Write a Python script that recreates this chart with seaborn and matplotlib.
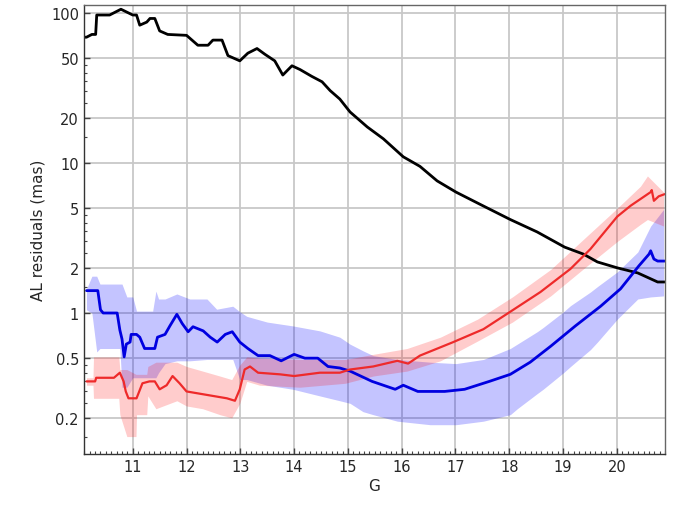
import numpy as np
import pandas as pd
import matplotlib
matplotlib.use("Agg")
import matplotlib.pyplot as plt
import seaborn as sns
from matplotlib.ticker import FixedLocator, MultipleLocator, NullFormatter, LogLocator

# black curve (median AL residual, all sources)
g_black = [10.09, 10.14, 10.24, 10.31, 10.33, 10.57, 10.78, 11.0, 11.07, 11.13, 11.26, 11.32,
           11.41, 11.50, 11.65, 12.0, 12.21, 12.40, 12.49, 12.66, 12.77, 12.99, 13.14, 13.31,
           13.46, 13.64, 13.79, 13.96, 14.11, 14.33, 14.52, 14.67, 14.85, 15.04, 15.36, 15.66,
           16.03, 16.34, 16.66, 17.01, 17.46, 18.02, 18.52, 19.03, 19.38, 19.64, 20.01, 20.39,
           20.76, 20.91]
al_black = [69, 69, 72, 72, 97, 97, 106, 97, 97, 83, 87, 92,
            92, 76, 72, 71, 61, 61, 66, 66, 52, 48, 54, 58,
            53, 48, 38.6, 44.5, 42, 37.8, 34.8, 30.4, 26.7, 21.9, 17.4, 14.5,
            11.0, 9.5, 7.6, 6.4, 5.3, 4.2, 3.47, 2.75, 2.47, 2.19, 2.0, 1.85,
            1.61, 1.61]

# blue curve and band
g_blue = [10.14, 10.35, 10.40, 10.45, 10.71, 10.76, 10.80, 10.84, 10.88, 10.95, 10.97, 11.07,
          11.13, 11.22, 11.41, 11.46, 11.60, 11.69, 11.82, 11.92, 12.03, 12.12, 12.31, 12.44,
          12.57, 12.72, 12.85, 12.99, 13.14, 13.33, 13.55, 13.76, 14.0, 14.2, 14.44, 14.63,
          14.85, 15.04, 15.45, 15.88, 16.03, 16.3, 16.8, 17.17, 17.63, 18.02, 18.39, 18.77,
          19.23, 19.7, 20.07, 20.41, 20.6, 20.63, 20.69, 20.76, 20.91]
al_blue = [1.41, 1.41, 1.05, 1.0, 1.0, 0.77, 0.67, 0.51, 0.62, 0.64, 0.72, 0.72,
           0.69, 0.58, 0.58, 0.69, 0.72, 0.82, 0.98, 0.85, 0.75, 0.81, 0.76, 0.69,
           0.64, 0.72, 0.75, 0.64, 0.58, 0.52, 0.52, 0.48, 0.53, 0.50, 0.50, 0.44,
           0.43, 0.41, 0.35, 0.31, 0.33, 0.30, 0.30, 0.31, 0.35, 0.39, 0.47, 0.60,
           0.82, 1.11, 1.45, 2.06, 2.47, 2.6, 2.29, 2.22, 2.22]
g_blue_band = [10.14, 10.24, 10.33, 10.39, 10.76, 10.80, 10.89, 11.0, 11.07, 11.37, 11.43, 11.48,
               11.6, 11.82, 12.06, 12.38, 12.56, 12.86, 12.99, 13.12, 13.5, 13.98, 14.48, 14.85,
               15.04, 15.28, 15.47, 15.92, 16.53, 17.01, 17.52, 18.02, 18.15, 18.52, 18.63, 19.01,
               19.14, 19.51, 19.64, 20.01, 20.39, 20.63, 20.87]
blue_lo = [1.05, 1.0, 0.55, 0.58, 0.58, 0.32, 0.32, 0.37, 0.37, 0.37, 0.37, 0.40,
           0.46, 0.48, 0.48, 0.49, 0.49, 0.49, 0.36, 0.36, 0.33, 0.31, 0.28, 0.26,
           0.25, 0.22, 0.21, 0.19, 0.18, 0.18, 0.19, 0.21, 0.23, 0.29, 0.31, 0.40,
           0.44, 0.57, 0.64, 0.91, 1.24, 1.28, 1.30]
blue_hi = [1.45, 1.76, 1.76, 1.56, 1.56, 1.56, 1.28, 1.28, 1.03, 1.03, 1.40, 1.24,
           1.24, 1.34, 1.24, 1.24, 1.06, 1.11, 1.02, 0.95, 0.87, 0.82, 0.76, 0.69,
           0.62, 0.56, 0.52, 0.49, 0.47, 0.46, 0.49, 0.58, 0.62, 0.75, 0.80, 1.02,
           1.12, 1.38, 1.5, 1.88, 2.55, 3.8, 4.9]

# red curve and band
g_red = [10.14, 10.30, 10.32, 10.65, 10.76, 10.83, 10.87, 10.92, 11.07, 11.18, 11.31, 11.41,
         11.50, 11.63, 11.74, 11.87, 12.0, 12.24, 12.49, 12.75, 12.9, 12.99, 13.08, 13.18,
         13.33, 13.74, 14.0, 14.48, 14.85, 15.04, 15.47, 15.92, 16.12, 16.34, 16.96, 17.52,
         18.02, 18.58, 19.14, 19.51, 20.01, 20.26, 20.63, 20.65, 20.69, 20.78, 20.89]
al_red = [0.35, 0.35, 0.37, 0.37, 0.40, 0.35, 0.30, 0.27, 0.27, 0.34, 0.35, 0.35,
          0.31, 0.33, 0.38, 0.34, 0.30, 0.29, 0.28, 0.27, 0.26, 0.31, 0.42, 0.44,
          0.40, 0.39, 0.38, 0.40, 0.40, 0.42, 0.44, 0.48, 0.46, 0.52, 0.64, 0.78,
          1.02, 1.38, 1.97, 2.67, 4.4, 5.2, 6.4, 6.6, 5.6, 6.0, 6.2]
g_red_band = [10.14, 10.26, 10.27, 10.74, 10.76, 10.89, 11.06, 11.07, 11.26, 11.28, 11.43, 11.82,
              12.0, 12.3, 12.62, 12.84, 12.99, 13.12, 13.36, 14.11, 14.95, 15.47, 16.1, 16.72,
              17.41, 18.06, 18.77, 19.38, 20.01, 20.44, 20.57, 20.87]
red_lo = [0.33, 0.33, 0.27, 0.27, 0.21, 0.15, 0.15, 0.21, 0.21, 0.28, 0.23, 0.26,
          0.24, 0.23, 0.21, 0.20, 0.25, 0.35, 0.33, 0.32, 0.34, 0.38, 0.41, 0.48,
          0.65, 0.87, 1.30, 1.97, 3.0, 3.9, 4.2, 3.8]
red_hi = [0.37, 0.37, 0.51, 0.51, 0.42, 0.42, 0.39, 0.39, 0.39, 0.44, 0.47, 0.47,
          0.44, 0.41, 0.38, 0.36, 0.45, 0.51, 0.50, 0.49, 0.49, 0.53, 0.58, 0.69,
          0.91, 1.28, 1.95, 3.1, 5.0, 7.0, 8.2, 6.4]

y_ticks = [0.2, 0.5, 1, 2, 5, 10, 20, 50, 100]
y_ticklabels = ["0.2", "0.5", "1", "2", "5", "10", "20", "50", "100"]
x_ticks = [11, 12, 13, 14, 15, 16, 17, 18, 19, 20]

sns.set_theme(style="white")
plt.rcParams["font.family"] = ["DejaVu Sans"]

fig = plt.figure(figsize=(6.76, 5.06), dpi=100)
ax = fig.add_axes([0.124, 0.101, 0.86, 0.887])

ax.fill_between(g_blue_band, blue_lo, blue_hi, color="#0000ff", alpha=0.23, lw=0)
ax.fill_between(g_red_band, red_lo, red_hi, color="#ff0000", alpha=0.2, lw=0)

sns.lineplot(x=g_black, y=al_black, ax=ax, color="black", lw=2)
sns.lineplot(x=g_blue, y=al_blue, ax=ax, color="#0000e0", lw=2)
sns.lineplot(x=g_red, y=al_red, ax=ax, color="#ee2a2a", lw=1.6)

ax.set_yscale("log")
ax.set_xlim(10.09, 20.9)
ax.set_ylim(0.115, 113)
ax.yaxis.set_major_locator(FixedLocator(y_ticks))
ax.set_yticklabels(y_ticklabels)
ax.yaxis.set_minor_locator(LogLocator(base=10, subs=np.arange(1, 10) * 0.5))
ax.yaxis.set_minor_formatter(NullFormatter())
ax.xaxis.set_major_locator(FixedLocator(x_ticks))
ax.xaxis.set_minor_locator(MultipleLocator(0.1))

ax.grid(True, which="major", color="#c8c8c8", lw=1.3)
ax.set_axisbelow(True)
ax.tick_params(axis="both", which="major", direction="in", length=4, width=1, labelsize=10.5,
               color="#444444", left=True, bottom=True)
ax.tick_params(axis="both", which="minor", direction="in", length=2, width=0.8,
               color="#444444", left=True, bottom=True)
for s in ax.spines.values():
    s.set_color("#666666")
    s.set_linewidth(1)
ax.spines["left"].set_color("#333333")
ax.spines["bottom"].set_color("#333333")

ax.set_xlabel("G", fontsize=11, labelpad=3)
ax.set_ylabel("AL residuals (mas)", fontsize=11, labelpad=4)

fig.savefig("out.png", dpi=100)
